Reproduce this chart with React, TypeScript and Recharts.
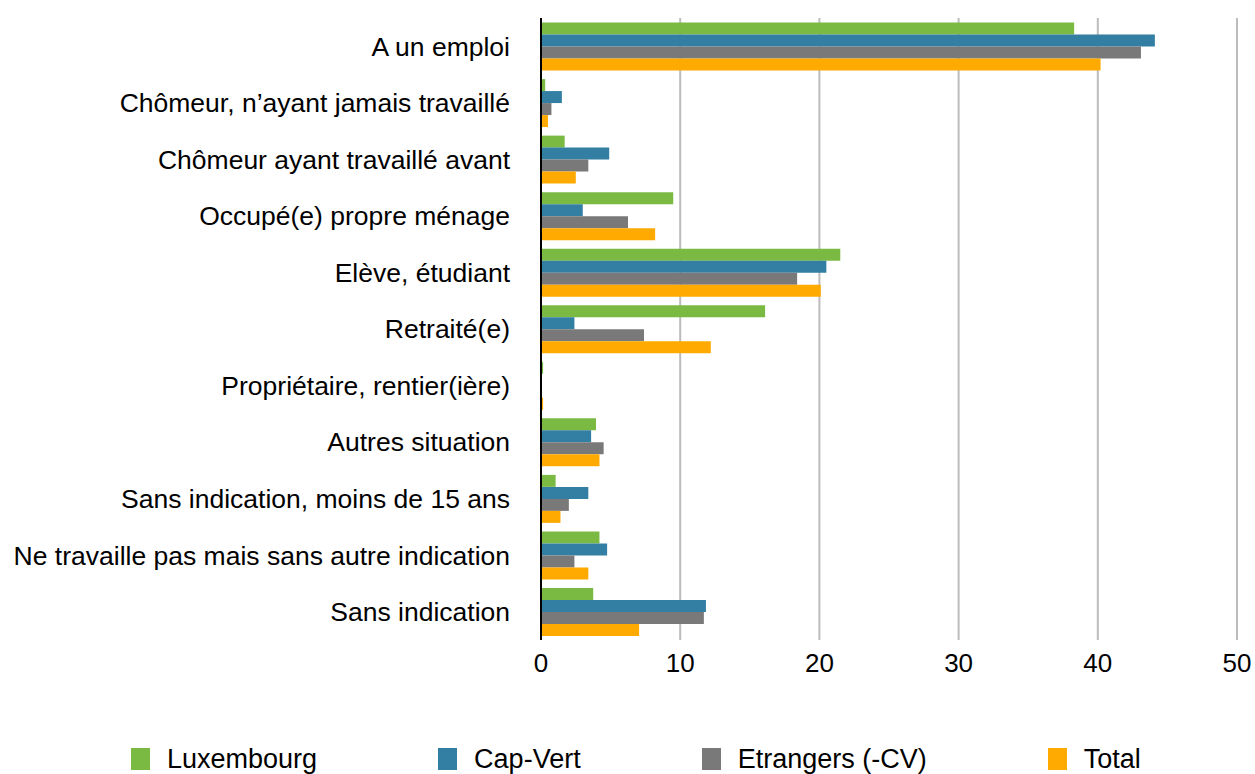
import { BarChart, Bar, XAxis, YAxis, CartesianGrid, Legend } from "recharts";

const categories = [
  "A un emploi",
  "Chômeur, n’ayant jamais travaillé",
  "Chômeur ayant travaillé avant",
  "Occupé(e) propre ménage",
  "Elève, étudiant",
  "Retraité(e)",
  "Propriétaire, rentier(ière)",
  "Autres situation",
  "Sans indication, moins de 15 ans",
  "Ne travaille pas mais sans autre indication",
  "Sans indication",
];

const luxembourg = [38.3, 0.3, 1.7, 9.5, 21.5, 16.1, 0.15, 3.95, 1.05, 4.2, 3.75];
const capVert = [44.1, 1.5, 4.9, 3.0, 20.5, 2.4, 0, 3.6, 3.4, 4.75, 11.85];
const etrangers = [43.1, 0.75, 3.4, 6.25, 18.4, 7.4, 0, 4.5, 2.0, 2.4, 11.7];
const total = [40.2, 0.5, 2.5, 8.2, 20.1, 12.2, 0.15, 4.2, 1.4, 3.4, 7.05];

const xTicks = [0, 10, 20, 30, 40, 50];

const series = [
  { key: "lux", name: "Luxembourg", color: "#7aba43" },
  { key: "cv", name: "Cap-Vert", color: "#337ea3" },
  { key: "etr", name: "Etrangers (-CV)", color: "#797979" },
  { key: "tot", name: "Total", color: "#ffaa00" },
];

const data = categories.map((name, i) => ({
  name,
  lux: luxembourg[i],
  cv: capVert[i],
  etr: etrangers[i],
  tot: total[i],
}));

const FONT = "'Liberation Sans', Arial, Helvetica, sans-serif";

function LegendContent() {
  return (
    <div
      style={{
        display: "flex",
        gap: 121,
        height: 30,
        alignItems: "center",
        paddingLeft: 131,
        fontFamily: FONT,
        fontSize: 27,
        color: "#000",
        whiteSpace: "nowrap",
      }}
    >
      {series.map((s) => (
        <div key={s.key} style={{ display: "flex", alignItems: "center", flexShrink: 0 }}>
          <span style={{ display: "inline-block", width: 19, height: 22, background: s.color, marginRight: 17 }} />
          <span>{s.name}</span>
        </div>
      ))}
    </div>
  );
}

export default function App() {
  return (
    <div style={{ position: "absolute", left: 0, top: 0, width: 1255, height: 774, background: "#fff", overflow: "hidden" }}>
      <BarChart
        width={1255}
        height={774}
        data={data}
        layout="vertical"
        margin={{ top: 18, right: 18, bottom: 0, left: 0 }}
        barCategoryGap="8%"
        barGap={0}
      >
        <CartesianGrid horizontal={false} vertical={true} stroke="#bcbcbc" strokeWidth={2} />
        <XAxis
          type="number"
          domain={[0, 50]}
          ticks={xTicks}
          axisLine={false}
          tickLine={false}
          height={104}
          tickMargin={8}
          tick={{ fontFamily: FONT, fontSize: 26, fill: "#000" }}
        />
        <YAxis
          type="category"
          dataKey="name"
          width={541}
          axisLine={{ stroke: "#000", strokeWidth: 2 }}
          tickLine={false}
          tickSize={0}
          tickMargin={31}
          interval={0}
          tick={{ fontFamily: FONT, fontSize: 26.5, fill: "#000" }}
        />
        <Legend
          verticalAlign="bottom"
          align="left"
          wrapperStyle={{ width: 1255, left: 0 }}
          content={<LegendContent />}
        />
        {series.map((s) => (
          <Bar key={s.key} dataKey={s.key} name={s.name} fill={s.color} isAnimationActive={false} />
        ))}
      </BarChart>
    </div>
  );
}
